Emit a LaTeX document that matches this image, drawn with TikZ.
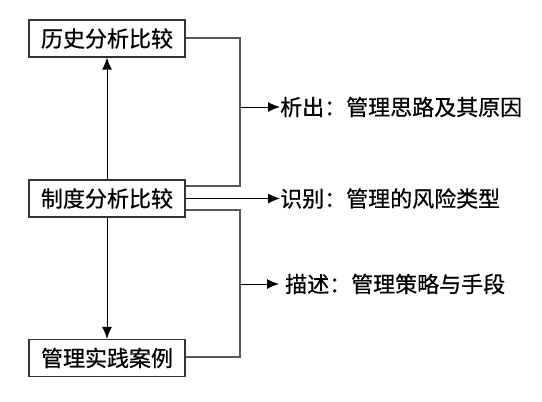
\documentclass[tikz,border=0pt]{standalone}
\usepackage{fontspec}
\newfontfamily\cjk[FakeBold=0.6]{Noto Sans CJK SC}
\usetikzlibrary{arrows.meta}
\begin{document}
\begin{tikzpicture}[x=1pt,y=-1pt,
  box/.style={draw=black!80, line width=1.3pt, minimum width=156pt, minimum height=37pt, inner sep=0pt, font=\cjk\fontsize{22}{22}\selectfont},
  lbl/.style={anchor=west, inner sep=0pt, font=\cjk\fontsize{22}{22}\selectfont},
  conn/.style={draw=black!65, line width=1.1pt},
  arr/.style={draw=black, line width=1pt, -{Latex[length=12pt,width=10pt]}}]
\useasboundingbox[fill=white] (0,0) rectangle (542,402);
\node[box] (h) at (107,38.5) {历史分析比较};
\node[box] (z) at (107,198.5) {制度分析比较};
\node[box] (g) at (107,358) {管理实践案例};
\node[lbl] (t1) at (280,107) {析出：管理思路及其原因};
\node[lbl] (t2) at (280,198.5) {识别：管理的风险类型};
\node[lbl] (t3) at (285,284) {描述：管理策略与手段};
\coordinate (b1) at (240,107);
\coordinate (b3) at (240,284);
\coordinate (e3) at (279,284);
\draw[arr] (z.north) -- (h.south);
\draw[arr] (z.south) -- (g.south |- g.north);
\draw[conn] (h.east |- 0,38) -- (240,38) -- (240,186) -- (z.east |- 0,186);
\draw[conn] (z.east |- 0,210) -- (240,210) -- (240,357) -- (g.east |- 0,357);
\draw[arr] (b1) -- (t1.west);
\draw[arr] (z.east |- t2.west) -- (t2.west);
\draw[arr] (b3) -- (e3);
\end{tikzpicture}
\end{document}
